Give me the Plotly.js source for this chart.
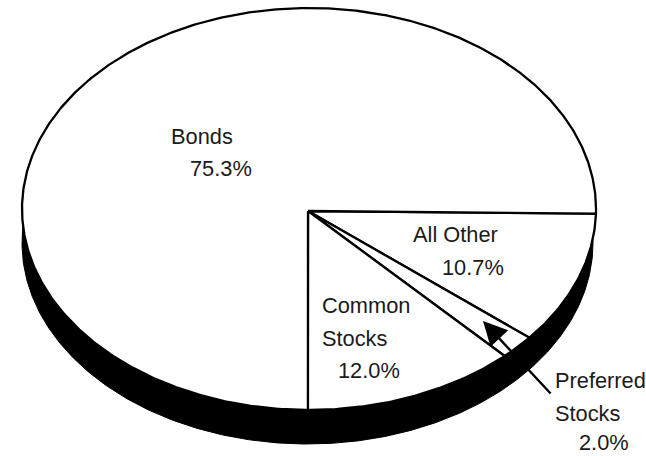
<!DOCTYPE html>
<html><head><meta charset="utf-8">
<script src="https://cdn.plot.ly/plotly-3.0.1.min.js"></script>
<style>html,body{margin:0;padding:0;background:#fff}</style></head>
<body><div id="chart" style="width:646px;height:456px"></div>
<script>
const categories = ['All Other', 'Preferred Stocks', 'Common Stocks', 'Bonds'];
const shares = [10.7, 2.0, 12.0, 75.3];
const labelLines = [['All Other','10.7%'], ['Preferred','Stocks','2.0%'], ['Common','Stocks','12.0%'], ['Bonds','75.3%']];

const cx = 309, cy = 209, rx = 287, ry = 201, startDeg = 1.3;
const hub = [308, 211];
const outer = {cx: 307.5, cy: 243, rx: 285.5, ry: 201};
const arc = (a, b, e) => {
  const xs = [], ys = [], n = Math.max(2, Math.ceil((b - a) * 2));
  for (let i = 0; i <= n; i++) {
    const d = (a + (b - a) * i / n) * Math.PI / 180;
    xs.push(e.cx + e.rx * Math.cos(d)); ys.push(e.cy + e.ry * Math.sin(d));
  }
  return [xs, ys];
};

const traces = [];
const [sx, sy] = arc(0, 360, outer);
traces.push({x: sx, y: sy, mode: 'lines', fill: 'toself', fillcolor: '#000', line: {color: '#000', width: 1}, hoverinfo: 'skip', showlegend: false, name: 'side'});

let acc = 0;
categories.forEach((c, i) => {
  const a = startDeg + acc * 3.6, b = startDeg + (acc + shares[i]) * 3.6;
  acc += shares[i];
  const [ax, ay] = arc(a, b, {cx, cy, rx, ry});
  traces.push({x: [hub[0], ...ax, hub[0]], y: [hub[1], ...ay, hub[1]], mode: 'lines', fill: 'toself', fillcolor: '#fff',
    line: {color: '#000', width: 2.3}, name: c, hoverinfo: 'name', showlegend: false});
});

const font = {family: '"Liberation Sans", Arial, sans-serif', size: 21.8, color: '#1a1a1a'};
const txt = (x, y, text) => ({x, y, text, showarrow: false, xanchor: 'left', yanchor: 'middle', font, xref: 'x', yref: 'y'});
const annotations = [
  txt(169, 136, labelLines[3][0]), txt(188, 168, labelLines[3][1]),
  txt(411, 234, labelLines[0][0]), txt(440, 267, labelLines[0][1]),
  txt(320, 305, labelLines[2][0]), txt(320, 338, labelLines[2][1]), txt(336, 370, labelLines[2][2]),
  txt(553, 380, labelLines[1][0]), txt(553, 413, labelLines[1][1]), txt(577, 442, labelLines[1][2]),
  {x: 483, y: 321, ax: 552, ay: 395, axref: 'x', ayref: 'y', xref: 'x', yref: 'y', text: '', showarrow: true,
   arrowhead: 2, arrowsize: 2, arrowwidth: 2.4, arrowcolor: '#000'}
];

Plotly.newPlot('chart', traces, {
  width: 646, height: 456, margin: {l: 0, r: 0, t: 0, b: 0},
  paper_bgcolor: '#fff', plot_bgcolor: '#fff', showlegend: false,
  xaxis: {range: [0, 646], visible: false, fixedrange: true},
  yaxis: {range: [456, 0], visible: false, fixedrange: true},
  annotations
}, {displayModeBar: false, staticPlot: true});
</script></body></html>
